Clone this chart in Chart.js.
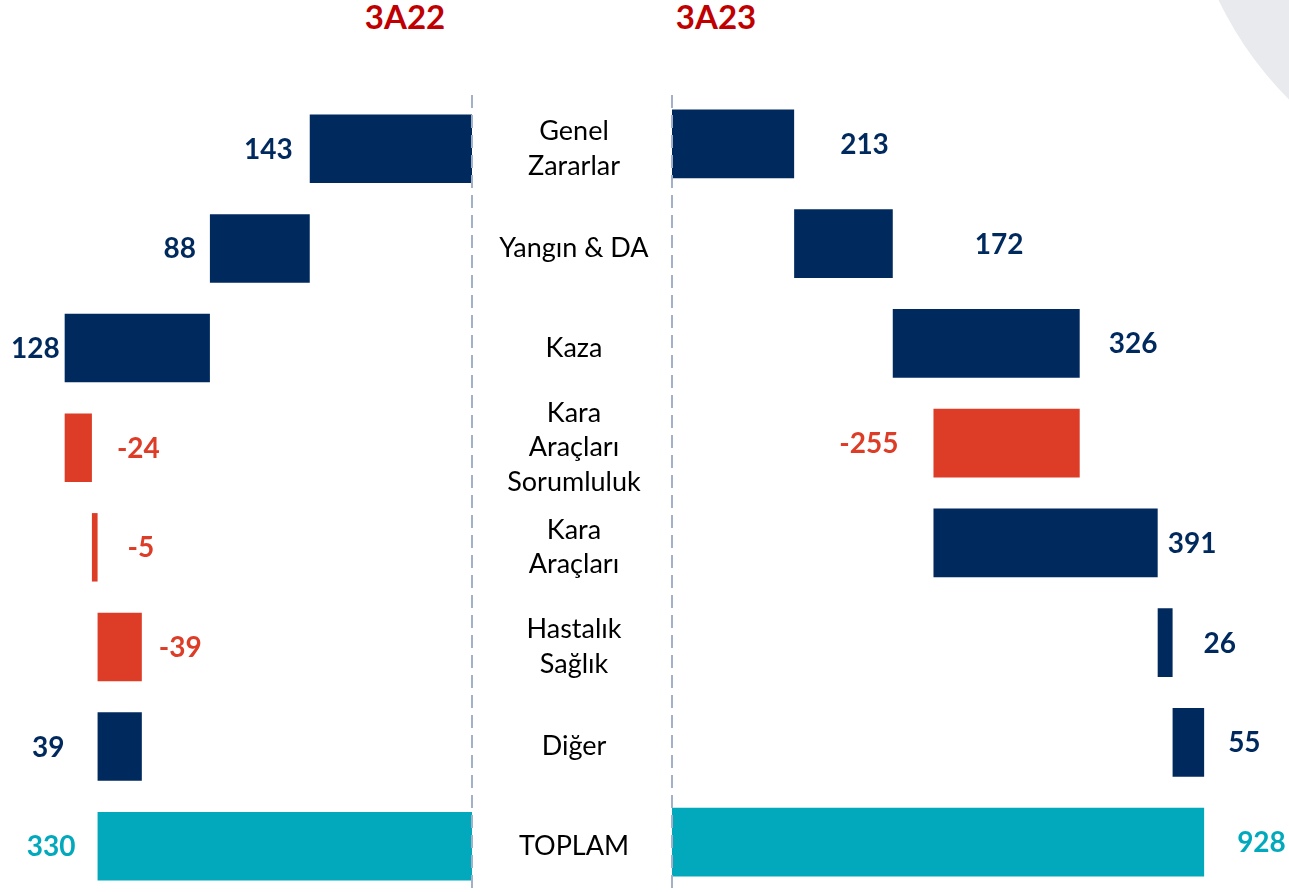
<!DOCTYPE html>
<html>
<head>
<meta charset="utf-8">
<script src="https://cdn.jsdelivr.net/npm/chart.js@4.4.1/dist/chart.umd.min.js"></script>
<style>
html,body{margin:0;padding:0;background:#fff;width:1289px;height:892px;overflow:hidden;position:relative;font-family:Lato,sans-serif}
#arc{position:absolute;left:1184px;top:-509px;width:712px;height:712px;border-radius:50%;background:#e9eaed}
.title{position:absolute;top:0;width:200px;text-align:center;color:#c00000;font:bold 33px/1 Lato,sans-serif}
#left{position:absolute;left:0;top:95px}
#right{position:absolute;left:664px;top:94px}
</style>
</head>
<body>
<div id="arc"></div>
<div class="title" style="left:305px">3A22</div>
<div class="title" style="left:616px">3A23</div>
<canvas id="left" width="672" height="801"></canvas>
<canvas id="right" width="625" height="798"></canvas>
<script>
// data
const categories = [['Genel', 'Zararlar'], ['Yangın & DA'], ['Kaza'], ['Kara', 'Araçları', 'Sorumluluk'],
  ['Kara', 'Araçları'], ['Hastalık', 'Sağlık'], ['Diğer'], ['TOPLAM']]
const changes22 = [143, 88, 128, -24, -5, -39, 39]
const changes23 = [213, 172, 326, -255, 391, 26, 55]

const NAVY = '#00295e', RED = '#dd3c27', TEAL = '#02a9bd'

// running totals -> floating bars, last one is the total
function waterfall(changes) {
  let run = 0
  const bars = [], vals = []
  changes.forEach(v => {
    bars.push([run, run + v])
    vals.push(v)
    run += v
  })
  bars.push([0, run])
  vals.push(run)
  return {bars, vals}
}

function colorFor(i, v, n) {
  if (i === n - 1) return TEAL
  return v < 0 ? RED : NAVY
}

const waterfallDeco = {
  id: 'waterfallDeco',
  afterDatasetsDraw(chart, args, opts) {
    const ctx = chart.ctx, xs = chart.scales.x, ys = chart.scales.y
    const bars = chart.data.datasets[0].data
    const dir = xs.options.reverse ? -1 : 1
    ctx.save()
    // dashed zero line
    const x0 = xs.getPixelForValue(0)
    ctx.strokeStyle = '#a3b1c8'
    ctx.lineWidth = 2
    ctx.setLineDash([13, 7])
    ctx.beginPath()
    ctx.moveTo(x0, opts.lineTop)
    ctx.lineTo(x0, chart.height)
    ctx.stroke()
    ctx.setLineDash([])
    // value labels
    ctx.font = 'bold 28px Lato'
    ctx.textBaseline = 'middle'
    bars.forEach((b, i) => {
      const v = opts.values[i]
      const hi = Math.max(b[0], b[1]), lo = Math.min(b[0], b[1])
      const gap = opts.gaps[i]
      let x, align
      if (v >= 0) {
        x = xs.getPixelForValue(hi) + dir * gap
        align = dir > 0 ? 'left' : 'right'
      } else {
        x = xs.getPixelForValue(lo) - dir * gap
        align = dir > 0 ? 'right' : 'left'
      }
      ctx.textAlign = align
      ctx.fillStyle = colorFor(i, v, bars.length)
      ctx.fillText(String(v), x, ys.getPixelForValue(i) + 1)
    })
    // category names in the middle column
    if (opts.showCategories) {
      ctx.font = '27px Lato'
      ctx.fillStyle = '#000'
      ctx.textAlign = 'center'
      const lh = 34.5
      const cx = chart.chartArea.right + 102
      chart.data.labels.forEach((lines, i) => {
        const y = ys.getPixelForValue(i)
        lines.forEach((t, k) => {
          ctx.fillText(t, cx, y + (k - (lines.length - 1) / 2) * lh)
        })
      })
    }
    ctx.restore()
  }
}

function makeChart(id, changes, opts) {
  const wf = waterfall(changes)
  return new Chart(document.getElementById(id), {
    type: 'bar',
    data: {
      labels: categories,
      datasets: [{
        data: wf.bars,
        backgroundColor: wf.vals.map((v, i) => colorFor(i, v, wf.vals.length)),
        borderWidth: 0,
        barPercentage: 0.687,
        categoryPercentage: 1
      }]
    },
    options: {
      indexAxis: 'y',
      responsive: false,
      animation: false,
      devicePixelRatio: 1,
      layout: {padding: opts.padding},
      scales: {
        x: {display: false, min: 0, max: opts.max, reverse: opts.reverse},
        y: {display: false}
      },
      plugins: {
        legend: {display: false},
        tooltip: {enabled: false},
        waterfallDeco: {
          values: wf.vals,
          gaps: opts.gaps,
          lineTop: opts.lineTop,
          showCategories: opts.showCategories
        }
      }
    },
    plugins: [waterfallDeco]
  })
}

makeChart('left', changes22, {
  max: 416, reverse: true,
  padding: {top: 4, right: 200, left: 0, bottom: 0},
  gaps: [17, 14, 5, 25, 30, 17, 33, 22],
  lineTop: 0, showCategories: true
})
makeChart('right', changes23, {
  max: 1076, reverse: false,
  padding: {top: 0, right: 0, left: 8, bottom: 0},
  gaps: [46, 82, 29, 35, 10, 31, 24, 33],
  lineTop: 1, showCategories: false
})
</script>
</body>
</html>
